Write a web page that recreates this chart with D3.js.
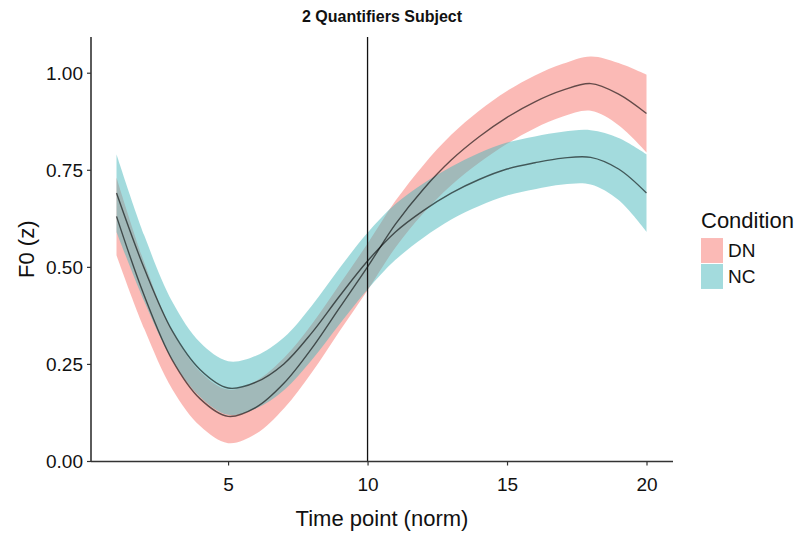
<!DOCTYPE html>
<html>
<head>
<meta charset="utf-8">
<script src="https://cdn.jsdelivr.net/npm/d3@7"></script>
<style>
  html, body { margin: 0; padding: 0; background: #fff; }
  svg { display: block; font-family: "Liberation Sans", Arial, Helvetica, sans-serif; }
</style>
</head>
<body>
<div id="chart"></div>
<script>
// Smoothed F0 (z) by normalised time point, one curve per condition
const timePoints = [1, 2, 3, 4, 5, 6, 7, 8, 9, 10, 11, 12, 13, 14, 15, 16, 17, 18, 19, 20];

const dnFit = [0.630, 0.425, 0.260, 0.160, 0.115, 0.138, 0.200, 0.290, 0.395, 0.500,
               0.610, 0.700, 0.775, 0.835, 0.885, 0.925, 0.955, 0.972, 0.945, 0.895];
const dnSe  = [0.100, 0.085, 0.075, 0.070, 0.069, 0.068, 0.065, 0.062, 0.060, 0.060,
               0.060, 0.062, 0.065, 0.067, 0.068, 0.068, 0.068, 0.070, 0.080, 0.100];

const ncFit = [0.690, 0.495, 0.335, 0.235, 0.188, 0.203, 0.250, 0.330, 0.425, 0.515,
               0.590, 0.645, 0.690, 0.725, 0.752, 0.768, 0.780, 0.782, 0.752, 0.690];
const ncSe  = [0.100, 0.085, 0.075, 0.070, 0.069, 0.068, 0.068, 0.070, 0.072, 0.073,
               0.072, 0.070, 0.068, 0.068, 0.068, 0.068, 0.068, 0.070, 0.080, 0.100];

const conditions = ['DN', 'NC'];
const xTicks = [5, 10, 15, 20];
const yTicks = [0, 0.25, 0.5, 0.75, 1.0];
const markerTime = 10;

const series = [
  { name: 'DN', fit: dnFit, se: dnSe, fill: '#F8766D', opacity: 0.5 },
  { name: 'NC', fit: ncFit, se: ncSe, fill: '#48B8BC', opacity: 0.5 }
];

const W = 798, H = 533;
const panel = { left: 91, right: 673, top: 37, bottom: 461.5 };

const svg = d3.select('#chart')
  .append('svg')
  .attr('width', W)
  .attr('height', H);

const x = d3.scaleLinear()
  .domain([0.05, 20.95])
  .range([panel.left - 1, panel.right]);

const y = d3.scaleLinear()
  .domain([0, 1.092])
  .range([panel.bottom - 0.5, panel.top]);

const curve = d3.curveCatmullRom.alpha(0.5);

// ribbons first, then the fitted lines on top
series.forEach(s => {
  const rows = timePoints.map((t, i) => ({ t, fit: s.fit[i], se: s.se[i] }));
  svg.append('path')
    .datum(rows)
    .attr('fill', s.fill)
    .attr('fill-opacity', s.opacity)
    .attr('d', d3.area()
      .x(d => x(d.t))
      .y0(d => y(d.fit - d.se))
      .y1(d => y(d.fit + d.se))
      .curve(curve));
});

series.forEach(s => {
  const rows = timePoints.map((t, i) => ({ t, fit: s.fit[i] }));
  svg.append('path')
    .datum(rows)
    .attr('fill', 'none')
    .attr('stroke', '#000')
    .attr('stroke-opacity', 0.6)
    .attr('stroke-width', 1.4)
    .attr('d', d3.line()
      .x(d => x(d.t))
      .y(d => y(d.fit))
      .curve(curve));
});

// vertical marker
svg.append('line')
  .attr('x1', x(markerTime))
  .attr('x2', x(markerTime))
  .attr('y1', panel.top)
  .attr('y2', panel.bottom)
  .attr('stroke', '#111')
  .attr('stroke-width', 1.3);

// axes
const xAxis = svg.append('g')
  .attr('transform', `translate(0,${panel.bottom})`)
  .call(d3.axisBottom(x).tickValues(xTicks).tickFormat(d3.format('d')).tickSize(4).tickSizeOuter(0));

const yAxis = svg.append('g')
  .attr('transform', `translate(${panel.left},0)`)
  .call(d3.axisLeft(y).tickValues(yTicks).tickFormat(d3.format('.2f')).tickSize(4).tickSizeOuter(0));

[xAxis, yAxis].forEach(g => {
  g.select('.domain').attr('stroke', '#333').attr('stroke-width', 1.6);
  g.selectAll('.tick line').attr('stroke', '#333').attr('stroke-width', 1.2);
  g.selectAll('.tick text')
    .attr('fill', '#111')
    .attr('font-size', '19px')
    .attr('font-family', '"Liberation Sans", Arial, sans-serif');
});
xAxis.select('.domain').attr('d', `M${panel.left},0H${panel.right}`);
yAxis.select('.domain').attr('d', `M0,${panel.top}V${panel.bottom}`);
xAxis.selectAll('.tick text').attr('dy', '1.2em');
yAxis.selectAll('.tick text').attr('x', -8).attr('dy', '0.36em');

// titles
svg.append('text')
  .attr('x', (panel.left + panel.right) / 2)
  .attr('y', 22)
  .attr('text-anchor', 'middle')
  .attr('font-weight', 'bold')
  .attr('font-size', '16px')
  .attr('fill', '#111')
  .text('2 Quantifiers Subject');

svg.append('text')
  .attr('x', (panel.left + panel.right) / 2)
  .attr('y', 526)
  .attr('text-anchor', 'middle')
  .attr('font-size', '22px')
  .attr('fill', '#111')
  .text('Time point (norm)');

svg.append('text')
  .attr('transform', `translate(34,${(panel.top + panel.bottom) / 2}) rotate(-90)`)
  .attr('text-anchor', 'middle')
  .attr('font-size', '22px')
  .attr('fill', '#111')
  .text('F0 (z)');

// legend
const legend = svg.append('g').attr('transform', 'translate(701,0)');

legend.append('text')
  .attr('x', 0)
  .attr('y', 228)
  .attr('font-size', '22px')
  .attr('fill', '#111')
  .text('Condition');

const key = d3.scaleBand().domain(conditions).range([237, 290]).padding(0.04);

conditions.forEach((c, i) => {
  const s = series[i];
  legend.append('rect')
    .attr('x', 0)
    .attr('y', key(c))
    .attr('width', 22)
    .attr('height', key.bandwidth())
    .attr('fill', s.fill)
    .attr('fill-opacity', s.opacity);
  legend.append('text')
    .attr('x', 27)
    .attr('y', key(c) + key.bandwidth() / 2)
    .attr('dy', '0.36em')
    .attr('font-size', '19px')
    .attr('fill', '#111')
    .text(c);
});
</script>
</body>
</html>
